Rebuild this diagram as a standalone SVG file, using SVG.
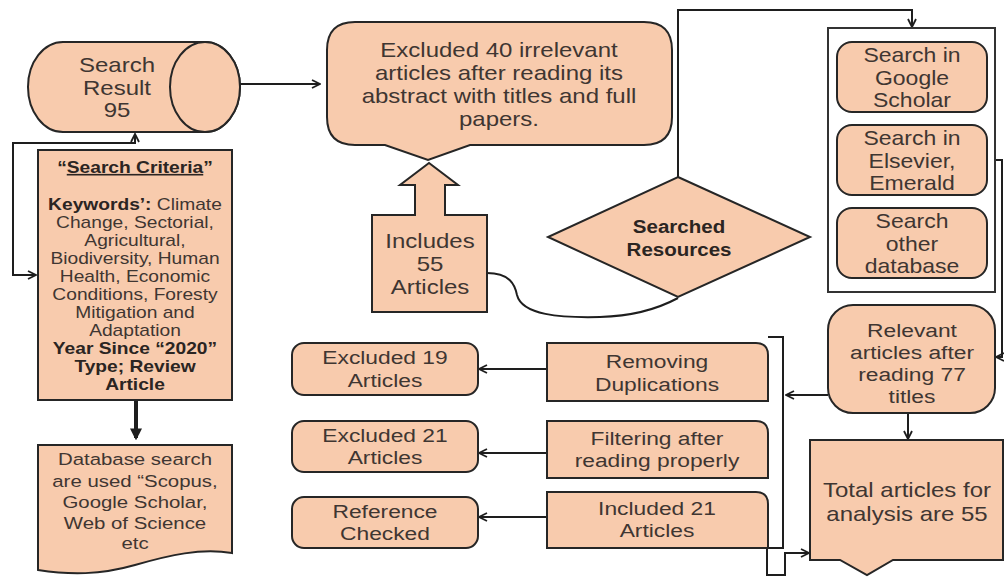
<svg xmlns="http://www.w3.org/2000/svg" width="1004" height="577" viewBox="0 0 1004 577">
<style>
.n{fill:#F8CBAD;stroke:#262626;stroke-width:2}
.w{fill:#ffffff;stroke:#333333;stroke-width:2}
.c{fill:none;stroke:#1e1e1e;stroke-width:2}
text{font-family:"Liberation Sans",Arial,sans-serif;fill:#3f3632;text-anchor:middle}
.t20{font-size:20px}
.t19{font-size:19px}
.t17{font-size:17px}
.t16{font-size:16px}
.b{font-weight:bold;fill:#2b2522}
</style>
<defs>
<marker id="ah" viewBox="0 0 10 10" refX="9" refY="5" markerWidth="10" markerHeight="10" markerUnits="userSpaceOnUse" orient="auto-start-reverse">
<path d="M1,1 L9,5 L1,9" fill="none" stroke="#1e1e1e" stroke-width="1.8"/>
</marker>
<marker id="ahb" viewBox="0 0 10 10" refX="8" refY="5" markerWidth="12" markerHeight="12" markerUnits="userSpaceOnUse" orient="auto">
<path d="M0,0 L10,5 L0,10 Z" fill="#1e1e1e"/>
</marker>
</defs>

<g id="connectors">
<path class="c" d="M240,84 H320" marker-end="url(#ah)"/>
<path class="c" d="M135,134 V143 H13 V275 H36" marker-start="url(#ah)" marker-end="url(#ah)"/>
<path d="M136,401 V438" fill="none" stroke="#1e1e1e" stroke-width="4" marker-end="url(#ahb)"/>
<path class="c" d="M487,273 C510,273 515,285 517,295 C522,315 560,318 600,317 C640,316 665,305 678,298"/>
<path class="c" d="M678,177 V10 H912 V27" marker-end="url(#ah)"/>
<path class="c" d="M995,160 H1002 V357 H996" marker-end="url(#ah)"/>
<path class="c" d="M908,413 V439" marker-end="url(#ah)"/>
<path class="c" d="M828,395 H786" marker-end="url(#ah)"/>
<path class="c" d="M768,337 H783 V548 H767 V575 H785 V553 H809" marker-end="url(#ah)"/>
<path class="c" d="M547,369 H479" marker-end="url(#ah)"/>
<path class="c" d="M547,453 H479" marker-end="url(#ah)"/>
<path class="c" d="M547,517 H479" marker-end="url(#ah)"/>
</g>

<g id="search-result">
<path class="n" d="M63,42 H205 A35,45 0 0 1 205,132 H63 A35,45 0 0 1 63,42 Z"/>
<ellipse class="n" cx="205" cy="87" rx="35" ry="45"/>
<g transform="matrix(1.2,0,0,1,-23.4,0)">
<text class="t20" x="117" y="72">Search</text>
<text class="t20" x="117" y="95">Result</text>
<text class="t20" x="117" y="117">95</text>
</g>
</g>

<g id="search-criteria">
<rect class="n" x="38" y="150" width="194" height="250"/>
<g transform="matrix(1.2,0,0,1,-27,0)">
<text class="t16 b" x="135" y="173">“<tspan text-decoration="underline">Search Criteria</tspan>”</text>
<text class="t16" x="135" y="210"><tspan class="b">Keywords’:</tspan> Climate</text>
<text class="t16" x="135" y="228">Change, Sectorial,</text>
<text class="t16" x="135" y="246">Agricultural,</text>
<text class="t16" x="135" y="264">Biodiversity, Human</text>
<text class="t16" x="135" y="282">Health, Economic</text>
<text class="t16" x="135" y="300">Conditions, Foresty</text>
<text class="t16" x="135" y="318">Mitigation and</text>
<text class="t16" x="135" y="336">Adaptation</text>
<text class="t16 b" x="135" y="354">Year Since “2020”</text>
<text class="t16 b" x="135" y="372">Type; Review</text>
<text class="t16 b" x="135" y="390">Article</text>
</g>
</g>

<g id="database-search">
<path class="n" d="M38,445 H232 V553 C200,548 170,555 135,565 C100,575 70,575 38,570 Z"/>
<g transform="matrix(1.2,0,0,1,-27,0)">
<text class="t17" x="135" y="465">Database search</text>
<text class="t17" x="135" y="487">are used “Scopus,</text>
<text class="t17" x="135" y="508">Google Scholar,</text>
<text class="t17" x="135" y="529">Web of Science</text>
<text class="t17" x="135" y="549">etc</text>
</g>
</g>

<g id="excluded-40">
<path class="n" d="M355,22 H644 Q672,22 672,50 V117 Q672,145 644,145 H470 L428,160 L385,145 H355 Q327,145 327,117 V50 Q327,22 355,22 Z"/>
<g transform="matrix(1.2,0,0,1,-99.8,0)">
<text class="t20" x="499" y="57">Excluded 40 irrelevant</text>
<text class="t20" x="499" y="80">articles after reading its</text>
<text class="t20" x="499" y="103">abstract with titles and full</text>
<text class="t20" x="499" y="126">papers.</text>
</g>
</g>

<g id="includes-55">
<path class="n" d="M372,215 H415 V185 H400 L429,163 L458,185 H445 V215 H487 V312 H372 Z"/>
<g transform="matrix(1.2,0,0,1,-86,0)">
<text class="t20" x="430" y="248">Includes</text>
<text class="t20" x="430" y="271">55</text>
<text class="t20" x="430" y="294">Articles</text>
</g>
</g>

<g id="searched-resources">
<path class="n" d="M678,177 L810,237 L678,297 L548,237 Z"/>
<g transform="matrix(1.08,0,0,1,-54.3,0)">
<text class="t19 b" x="679" y="233">Searched</text>
<text class="t19 b" x="679" y="256">Resources</text>
</g>
</g>

<g id="resources-group">
<rect class="w" x="828" y="28" width="167" height="264"/>
</g>

<g id="google-scholar">
<rect class="n" x="837" y="42" width="150" height="70" rx="15"/>
<g transform="matrix(1.15,0,0,1,-136.8,0)">
<text class="t20" x="912" y="62">Search in</text>
<text class="t20" x="912" y="85">Google</text>
<text class="t20" x="912" y="107">Scholar</text>
</g>
</g>

<g id="elsevier-emerald">
<rect class="n" x="837" y="125" width="150" height="70" rx="15"/>
<g transform="matrix(1.15,0,0,1,-136.8,0)">
<text class="t20" x="912" y="145">Search in</text>
<text class="t20" x="912" y="168">Elsevier,</text>
<text class="t20" x="912" y="190">Emerald</text>
</g>
</g>

<g id="other-database">
<rect class="n" x="837" y="208" width="150" height="70" rx="15"/>
<g transform="matrix(1.15,0,0,1,-136.8,0)">
<text class="t20" x="912" y="228">Search</text>
<text class="t20" x="912" y="251">other</text>
<text class="t20" x="912" y="273">database</text>
</g>
</g>

<g id="relevant-77">
<rect class="n" x="828" y="305" width="167" height="108" rx="25"/>
<g transform="matrix(1.2,0,0,1,-182.4,0)">
<text class="t19" x="912" y="337">Relevant</text>
<text class="t19" x="912" y="359">articles after</text>
<text class="t19" x="912" y="381">reading 77</text>
<text class="t19" x="912" y="403">titles</text>
</g>
</g>

<g id="total-55">
<path class="n" d="M810,440 H1003 V560 H893 L867,575 L840,560 H810 Z"/>
<g transform="matrix(1.2,0,0,1,-181.4,0)">
<text class="t20" x="907" y="497">Total articles for</text>
<text class="t20" x="907" y="521">analysis are 55</text>
</g>
</g>

<g id="removing-duplications">
<path class="n" d="M547,343 H756 Q768,343 768,355 V401 H547 Z"/>
<g transform="matrix(1.2,0,0,1,-131.4,0)">
<text class="t19" x="657" y="368">Removing</text>
<text class="t19" x="657" y="391">Duplications</text>
</g>
</g>

<g id="filtering">
<path class="n" d="M547,421 H756 Q768,421 768,433 V478 H547 Z"/>
<g transform="matrix(1.2,0,0,1,-131.4,0)">
<text class="t19" x="657" y="445">Filtering after</text>
<text class="t19" x="657" y="467">reading properly</text>
</g>
</g>

<g id="included-21">
<path class="n" d="M547,492 H756 Q768,492 768,504 V548 H547 Z"/>
<g transform="matrix(1.2,0,0,1,-131.4,0)">
<text class="t19" x="657" y="515">Included 21</text>
<text class="t19" x="657" y="537">Articles</text>
</g>
</g>

<g id="excluded-19">
<rect class="n" x="292" y="343" width="186" height="52" rx="12"/>
<g transform="matrix(1.2,0,0,1,-77,0)">
<text class="t19" x="385" y="364">Excluded 19</text>
<text class="t19" x="385" y="387">Articles</text>
</g>
</g>

<g id="excluded-21">
<rect class="n" x="292" y="421" width="186" height="51" rx="12"/>
<g transform="matrix(1.2,0,0,1,-77,0)">
<text class="t19" x="385" y="442">Excluded 21</text>
<text class="t19" x="385" y="464">Articles</text>
</g>
</g>

<g id="reference-checked">
<rect class="n" x="292" y="497" width="186" height="51" rx="12"/>
<g transform="matrix(1.2,0,0,1,-77,0)">
<text class="t19" x="385" y="518">Reference</text>
<text class="t19" x="385" y="540">Checked</text>
</g>
</g>
</svg>
